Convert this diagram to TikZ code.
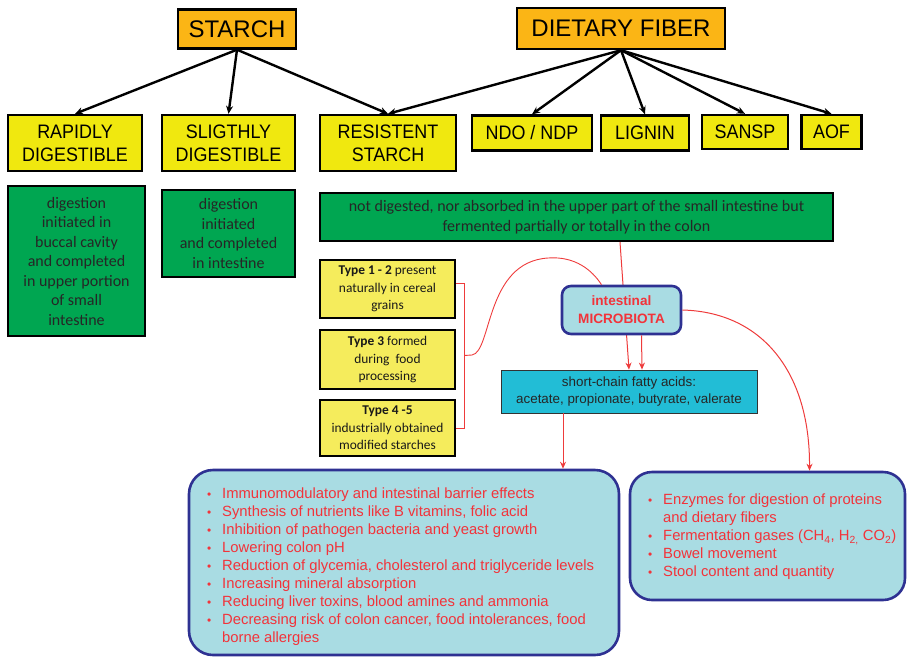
\documentclass[tikz,border=0pt]{standalone}
\usepackage{fontspec}
\setmainfont{Liberation Sans}
\newfontfamily\carl{Carlito}
\newfontfamily\narrowsans[FakeStretch=0.92]{Liberation Sans}
\usetikzlibrary{arrows.meta}

\definecolor{boxorange}{HTML}{FBB515}
\definecolor{boxyellow}{HTML}{F0E80F}
\definecolor{paleyellow}{HTML}{F5EC5C}
\definecolor{leafgreen}{HTML}{00A651}
\definecolor{paleblue}{HTML}{A9DCE3}
\definecolor{navy}{HTML}{2E3192}
\definecolor{cyanbox}{HTML}{22BDD6}
\definecolor{alertred}{HTML}{F2333A}
\definecolor{linkred}{HTML}{EE3B3B}

\newcommand{\bul}{\makebox[18pt][l]{\hspace{3pt}\scalebox{0.8}{\textbullet}}}

\tikzset{
  framed/.style={draw=black, line width=2.4pt, inner sep=0pt, align=center},
  headbox/.style={framed, fill=boxorange, font=\fontsize{24}{28}\selectfont},
  kindbox/.style={framed, fill=boxyellow, font=\narrowsans\fontsize{19.5}{23}\selectfont},
  greenbox/.style={framed, fill=leafgreen, text=black!85, font=\carl\fontsize{16}{19.5}\selectfont},
  typebox/.style={framed, fill=paleyellow, text=black!90, font=\carl\fontsize{13.4}{17.5}\selectfont},
  roundbox/.style={draw=navy, line width=2.6pt, fill=paleblue, inner sep=0pt},
  listtext/.style={inner sep=0pt, align=left, text=alertred, font=\fontsize{14.8}{18}\selectfont},
  tree/.style={line width=2.4pt, -{Stealth[length=8pt,width=7pt]}},
  link/.style={draw=linkred, line width=1pt, -{Stealth[length=7pt,width=6pt]}},
  bracket/.style={draw=linkred, line width=0.9pt},
}

\begin{document}
\begin{tikzpicture}[x=1pt,y=-1pt]
\useasboundingbox (0,0) rectangle (907,656);

% top headings
\node[headbox, minimum width=118pt, minimum height=39pt] (starch) at (237,29) {STARCH};
\node[headbox, minimum width=208pt, minimum height=41pt] (fiber) at (621,28.5) {DIETARY FIBER};

% second row
\node[kindbox, minimum width=134pt, minimum height=56pt] (rapid) at (75,143) {RAPIDLY\\DIGESTIBLE};
\node[kindbox, minimum width=133pt, minimum height=56pt] (slight) at (228.5,143) {SLIGTHLY\\DIGESTIBLE};
\node[kindbox, minimum width=136pt, minimum height=56pt] (resist) at (388,143) {RESISTENT\\STARCH};
\node[kindbox, minimum width=120pt, minimum height=35pt] (ndo) at (532,133) {NDO / NDP};
\node[kindbox, minimum width=88pt, minimum height=35pt] (lignin) at (645,133) {LIGNIN};
\node[kindbox, minimum width=86pt, minimum height=34pt] (sansp) at (745,132) {SANSP};
\node[kindbox, minimum width=60pt, minimum height=34pt] (aof) at (831.5,132) {AOF};

\draw[tree] (starch.south) -- (rapid.north);
\draw[tree] (starch.south) -- (slight.north);
\draw[tree] (starch.south) -- (resist.north);
\draw[tree] (fiber.south) -- (resist.north);
\draw[tree] (fiber.south) -- (ndo.north);
\draw[tree] (fiber.south) -- (lignin.north);
\draw[tree] (fiber.south) -- (sansp.north);
\draw[tree] (fiber.south) -- (aof.north);

% digestion notes
\node[greenbox, minimum width=137pt, minimum height=150pt] (gutA) at (76.5,261)
  {digestion\\initiated in\\buccal cavity\\and completed\\in upper portion\\of small\\intestine};
\node[greenbox, minimum width=133pt, minimum height=87pt] (gutB) at (228.5,233.5)
  {digestion\\initiated\\and completed\\in intestine};
\node[greenbox, minimum width=513pt, minimum height=48pt] (notdig) at (576.5,217)
  {not digested, nor absorbed in the upper part of the small intestine but\\fermented partially or totally in the colon};

% resistant starch types
\node[typebox, minimum width=135pt, minimum height=58pt] (t12) at (387.5,289)
  {\textbf{Type 1 - 2} present\\naturally in cereal\\grains};
\node[typebox, minimum width=135pt, minimum height=59pt] (t3) at (387.5,359.5)
  {\textbf{Type 3} formed\\during\ \ food\\processing};
\node[typebox, minimum width=135pt, minimum height=56pt] (t45) at (387.5,428)
  {\textbf{Type 4 -5}\\industrially obtained\\modified starches};

% fatty acids
\node[draw=black!80, line width=0.8pt, fill=cyanbox, inner sep=0pt, align=center,
      minimum width=256pt, minimum height=43pt, text=black!85,
      font=\fontsize{13.4}{16.5}\selectfont] (scfa) at (629,391.5)
  {short-chain fatty acids:\\acetate, propionate, butyrate, valerate};

% fermentation path from the colon note
\draw[link] ([xshift=43.5pt]notdig.south) -- (scfa.north);

% microbiota
\node[roundbox, rounded corners=9pt, minimum width=119pt, minimum height=48pt,
      align=center, text=alertred, font=\bfseries\fontsize{13.6}{18}\selectfont] (micro) at (621.5,310)
  {intestinal\\MICROBIOTA};

% bracket joining the starch types
\draw[bracket] ([yshift=6pt]t12.east) -- ++(8,0) |- (t45.east);
\coordinate (tap) at ([xshift=8pt,yshift=4pt]t3.east);
\draw[bracket] (tap) -- (472,355) .. controls (492,352) and (485,262) .. (548,258)
  .. controls (575,256) and (592,270) .. ([xshift=-20pt]micro.north);

% effect boxes
\node[roundbox, rounded corners=24pt, minimum width=430pt, minimum height=185pt] (bl) at (404,562.5) {};
\node[roundbox, rounded corners=22pt, minimum width=275pt, minimum height=128pt] (br) at (767.5,536) {};

\draw[link] ([xshift=20pt]micro.south) -- ([xshift=13pt]scfa.north);
\draw[link] ([xshift=-66pt]scfa.south) -- ([xshift=-66pt]scfa.south |- bl.north);
\draw[link] (micro.east) .. controls (762,312) and (810,372) .. ([xshift=42pt]br.north);

\node[listtext, anchor=north west] (blist) at (204,488) {%
\bul Immunomodulatory and intestinal barrier effects\\
\bul Synthesis of nutrients like B vitamins, folic acid\\
\bul Inhibition of pathogen bacteria and yeast growth\\
\bul Lowering colon pH\\
\bul Reduction of glycemia, cholesterol and triglyceride levels\\
\bul Increasing mineral absorption\\
\bul Reducing liver toxins, blood amines and ammonia\\
\bul Decreasing risk of colon cancer, food intolerances, food\\
\hspace*{18pt}borne allergies};

\node[listtext, anchor=north west] (rlist) at (645,494) {%
\bul Enzymes for digestion of proteins\\
\hspace*{18pt}and dietary fibers\\
\bul Fermentation gases (CH\textsubscript{4}, H\textsubscript{2,} CO\textsubscript{2})\\
\bul Bowel movement\\
\bul Stool content and quantity};

\end{tikzpicture}
\end{document}
